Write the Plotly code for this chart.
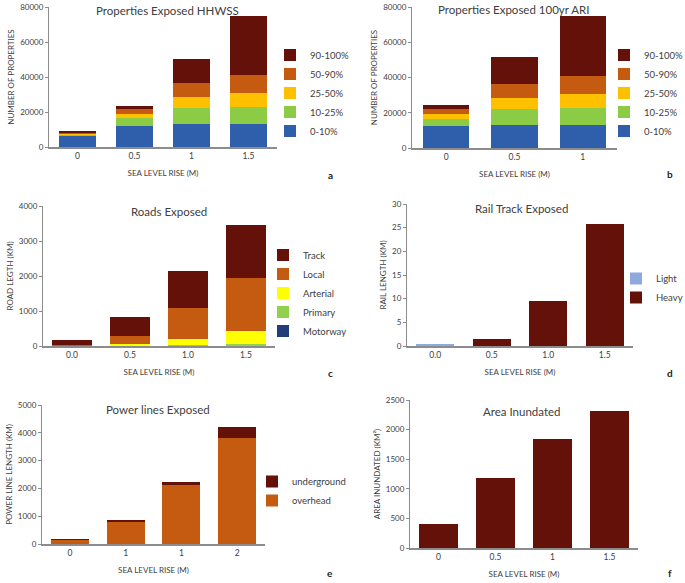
import plotly.graph_objects as go

W, H = 685, 583

# ---- data -------------------------------------------------------------
prop_bands = ['0-10%', '10-25%', '25-50%', '50-90%', '90-100%']
band_colors = ['#2F5EAB', '#8CCB45', '#FFC000', '#C55A11', '#64110A']

hhwss_x = ['0', '0.5', '1', '1.5']
hhwss_vals = {
    '0-10%': [6400, 12000, 13300, 13000],
    '10-25%': [800, 4400, 9000, 9900],
    '25-50%': [600, 2600, 6100, 8000],
    '50-90%': [600, 2900, 8000, 10100],
    '90-100%': [200, 1500, 14100, 33700],
}

ari_x = ['0', '0.5', '1']
ari_vals = {
    '0-10%': [12300, 13200, 12900],
    '10-25%': [4000, 8700, 10000],
    '25-50%': [3000, 6500, 7700],
    '50-90%': [2800, 7900, 10000],
    '90-100%': [2100, 15100, 34200],
}

road_types = ['Motorway', 'Primary', 'Arterial', 'Local', 'Track']
road_colors = ['#1F3E7A', '#92D050', '#FFFF00', '#C55A11', '#64110A']
road_x = ['0.0', '0.5', '1.0', '1.5']
road_vals = {
    'Motorway': [0, 2, 3, 5],
    'Primary': [2, 8, 20, 65],
    'Arterial': [3, 40, 180, 360],
    'Local': [10, 245, 875, 1520],
    'Track': [160, 535, 1055, 1515],
}

rail_types = ['Light', 'Heavy']
rail_colors = ['#8EA9DB', '#64110A']
rail_x = ['0.0', '0.5', '1.0', '1.5']
rail_vals = {
    'Light': [0.3, 0, 0, 0],
    'Heavy': [0, 1.5, 9.5, 25.7],
}

power_types = ['overhead', 'underground']
power_colors = ['#C55A11', '#64110A']
power_ticks = ['0', '1', '1', '2']
power_vals = {
    'overhead': [172, 822, 2125, 3820],
    'underground': [8, 15, 105, 380],
}

area_x = ['0', '0.5', '1', '1.5']
area_vals = [413, 1176, 1833, 2313]

# ---- layout helpers ---------------------------------------------------
FONT = 'Lato'
TXT = '#404040'
AXC = '#8C8C8C'


def dom(x0, x1, y0, y1):
    """pixel box -> paper domains"""
    return [x0 / W, x1 / W], [1 - y1 / H, 1 - y0 / H]


panels = {
    # name: (pixel box, y range, dtick, y title, title, title pos, letter, letter pos)
    '': ((49, 277, 7, 147), [0, 80000], 20000, 'NUMBER OF PROPERTIES',
         'Properties Exposed HHWSS', (167, 11), 'a', (330, 175)),
    '2': ((412, 617, 7, 148), [0, 80000], 20000, 'NUMBER OF PROPERTIES',
          'Properties Exposed 100yr ARI', (513, 9), 'b', (670, 174)),
    '3': ((43, 275, 206, 346), [0, 4000], 1000, 'ROAD LEGTH (KM)',
          'Roads Exposed', (169, 211), 'c', (330, 373)),
    '4': ((407, 633, 204, 346), [0, 30], 5, 'RAIL LENGTH (KM)',
          'Rail Track Exposed', (521, 209), 'd', (670, 373)),
    '5': ((42, 265, 405, 544), [0, 5000], 1000, 'POWER LINE LENGTH (KM)',
          'Power lines Exposed', (158, 409), 'e', (330, 573)),
    '6': ((410, 638, 400, 548), [0, 2500], 500, 'AREA INUNDATED (KM²)',
          'Area Inundated', (522, 411), 'f', (670, 573)),
}

fig = go.Figure()


def add_stack(names, colors, xs, vals, axis, legend, width):
    for n, c in zip(names, colors):
        fig.add_trace(go.Bar(
            x=xs, y=vals[n], name=n, marker=dict(color=c, line=dict(width=0)),
            xaxis='x' + axis, yaxis='y' + axis, legend=legend, width=width,
        ))


add_stack(prop_bands, band_colors, hhwss_x, hhwss_vals, '', 'legend', 0.66)
add_stack(prop_bands, band_colors, ari_x, ari_vals, '2', 'legend2', 0.68)
add_stack(road_types, road_colors, road_x, road_vals, '3', 'legend3', 0.68)
add_stack(rail_types, rail_colors, rail_x, rail_vals, '4', 'legend4', 0.68)
add_stack(power_types, power_colors, [0, 1, 2, 3], power_vals, '5', 'legend5', 0.68)
fig.add_trace(go.Bar(x=area_x, y=area_vals, marker=dict(color='#64110A', line=dict(width=0)),
                     xaxis='x6', yaxis='y6', showlegend=False, width=0.68))

layout = dict(
    width=W, height=H, barmode='stack', paper_bgcolor='white', plot_bgcolor='white',
    margin=dict(l=0, r=0, t=0, b=0, autoexpand=False),
    font=dict(family=FONT, color=TXT, size=9),
    annotations=[],
)

for key, (box, yr, dt, ytitle, title, tpos, letter, lpos) in panels.items():
    xd, yd = dom(*box)
    layout['xaxis' + key] = dict(
        domain=xd, anchor='y' + key, showline=True, linecolor=AXC, linewidth=1.5,
        ticks='', showgrid=False, tickfont=dict(size=8.5, color=TXT), automargin=False,
        title=dict(text='SEA LEVEL RISE (M)', font=dict(size=8, color=TXT), standoff=10),
    )
    layout['yaxis' + key] = dict(
        domain=yd, anchor='x' + key, range=yr, dtick=dt, showline=True, linecolor=AXC,
        linewidth=1, ticks='outside', ticklen=3, tickcolor=AXC, showgrid=False,
        zeroline=False, tickformat='d', tickfont=dict(size=8, color=TXT), automargin=False,
        title=dict(text=ytitle, font=dict(size=8, color=TXT), standoff=4),
    )
    layout['annotations'].append(dict(
        text=title, x=tpos[0] / W, y=1 - tpos[1] / H, xref='paper', yref='paper',
        showarrow=False, font=dict(size=11.5, color=TXT), xanchor='center', yanchor='middle'))
    layout['annotations'].append(dict(
        text='<b>' + letter + '</b>', x=lpos[0] / W, y=1 - lpos[1] / H,
        xref='paper', yref='paper', showarrow=False, font=dict(size=10, color='#222'),
        xanchor='center', yanchor='middle'))

layout['xaxis5']['tickvals'] = [0, 1, 2, 3]
layout['xaxis5']['ticktext'] = power_ticks

legend_pos = {'legend': (270, 93, 'reversed'), 'legend2': (604, 93, 'reversed'),
              'legend3': (263, 293, 'reversed'), 'legend4': (616, 288, 'normal'),
              'legend5': (252, 491, 'reversed')}
for lg, (lx, ly, order) in legend_pos.items():
    layout[lg] = dict(x=lx / W, y=1 - ly / H, xanchor='left', yanchor='middle',
                      traceorder=order, font=dict(size=9.5, color=TXT),
                      bgcolor='rgba(0,0,0,0)', itemwidth=30, tracegroupgap=4)

fig.update_layout(**layout)
fig.write_html('out.html', config={'displayModeBar': False},
               post_script="document.body.style.margin='0';document.body.style.overflow='hidden';")
